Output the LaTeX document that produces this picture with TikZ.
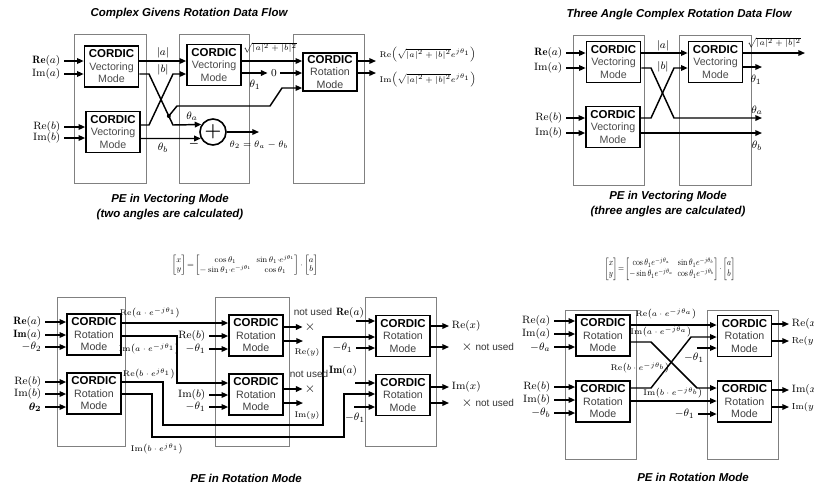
\documentclass[tikz,border=0pt]{standalone}
\usepackage{fontspec}
\setsansfont{Liberation Sans}
\usepackage{amsmath}
\usepackage{graphicx}
\usetikzlibrary{arrows.meta}
\tikzset{
  conn/.style={line width=1.1pt, line join=miter},
  arr/.style={conn, -{Triangle[length=5pt,width=4.2pt]}},
  panel/.style={draw=black!50, line width=0.6pt},
  cbox/.style={draw, line width=1.2pt, fill=white, minimum width=40.5pt, minimum height=30.75pt, inner sep=0pt, align=center, font=\fontsize{8}{9.4}\selectfont\sffamily},
  lbl/.style={inner sep=1pt, font=\fontsize{8}{9}\selectfont},
  inl/.style={lbl, anchor=east, inner sep=2.5pt},
  outl/.style={lbl, anchor=west, inner sep=2pt},
  slbl/.style={inner sep=1pt, font=\fontsize{6.2}{7}\selectfont},
  ttl/.style={font=\fontsize{8.6}{11.25}\selectfont\sffamily\bfseries\itshape, align=center},
  nu/.style={inner sep=1pt, font=\fontsize{7.5}{9}\selectfont\sffamily, text=black!80},
  xm/.style={inner sep=1.5pt, font=\fontsize{10}{10}\selectfont},
}
\newcommand{\cvec}{{\fontsize{8.6}{9.4}\selectfont\bfseries CORDIC}\\{\color{black!70}Vectoring}\\{\color{black!70}Mode}}
\newcommand{\crotm}{{\fontsize{8.6}{9.4}\selectfont\bfseries CORDIC}\\{\color{black!75}Rotation}\\{\color{black!75}Mode}}
\begin{document}
\begin{tikzpicture}[x=0.75pt,y=-0.75pt]
\useasboundingbox (0,0) rectangle (814,487);

% ---------------- titles ----------------
\node[ttl] (t1) at (189,14) {Complex Givens Rotation Data Flow};
\node[ttl] (t2) at (679,15) {Three Angle Complex Rotation Data Flow};
\node[ttl] (s1) at (170,207.5) {PE in Vectoring Mode\\(two angles are calculated)};
\node[ttl] (s2) at (668,204.5) {PE in Vectoring Mode\\(three angles are calculated)};
\node[ttl] (s3) at (246,478) {PE in Rotation Mode};
\node[ttl] (s4) at (693,477) {PE in Rotation Mode};

% ---------------- equations ----------------
\node[inner sep=0pt] (eq1) at (245,265) {\resizebox*{110pt}{15pt}{\setlength{\arraycolsep}{3pt}$\begin{bmatrix}x\\y\end{bmatrix}\!=\!\begin{bmatrix}\cos\theta_1 & \sin\theta_1{\cdot}e^{j\theta_1}\\-\sin\theta_1{\cdot}e^{-j\theta_1} & \cos\theta_1\end{bmatrix}{\cdot}\begin{bmatrix}a\\b\end{bmatrix}$}};
\node[inner sep=0pt] (eq2) at (670,269) {\resizebox*{98pt}{17pt}{\setlength{\arraycolsep}{3pt}$\begin{bmatrix}x\\y\end{bmatrix}\!=\!\begin{bmatrix}\cos\theta_1e^{-j\theta_a} & \sin\theta_1e^{-j\theta_b}\\-\sin\theta_1e^{-j\theta_a} & \cos\theta_1e^{-j\theta_b}\end{bmatrix}{\cdot}\begin{bmatrix}a\\b\end{bmatrix}$}};

% ---------------- panels ----------------
\draw[panel] (74,34) rectangle (146,183);
\draw[panel] (179,34) rectangle (249,183);
\draw[panel] (293,34) rectangle (364,183);
\draw[panel] (573,35) rectangle (644,185);
\draw[panel] (679,35) rectangle (751,185);
\draw[panel] (57,297) rectangle (125,446);
\draw[panel] (215,297) rectangle (289,446);
\draw[panel] (365,297) rectangle (436,446);
\draw[panel] (565,310) rectangle (636,459);
\draw[panel] (707,310) rectangle (778,459);

% ================= top left =================
\node[cbox] (b1) at (111.5,66.5) {\cvec};
\node[cbox] (b2) at (113,132) {\cvec};
\node[cbox] (b3) at (214,65) {\cvec};
\node[cbox, minimum height=28.5pt] (b4) at (330,72) {\crotm};
\node[circle, draw, line width=1.2pt, minimum size=19.5pt, inner sep=0pt, font=\fontsize{15}{15}\selectfont] (plus) at (213,132) {$\boldsymbol{+}$};
\node[circle, fill, inner sep=0pt, minimum size=3pt] (dot) at (168.8,116) {};

\node[inl] (ia1) at (64,61) {$\mathbf{Re}(a)$};
\node[inl] (ia2) at (64,74) {$\mathrm{Im}(a)$};
\node[inl] (ib1) at (64,127) {$\mathrm{Re}(b)$};
\node[inl] (ib2) at (64,138) {$\mathrm{Im}(b)$};
\draw[arr] (ia1.east) -- (ia1.east -| b1.west);
\draw[arr] (ia2.east) -- (ia2.east -| b1.west);
\draw[arr] (ib1.east) -- (ib1.east -| b2.west);
\draw[arr] (ib2.east) -- (ib2.east -| b2.west);

\draw[arr] (b1.east |- 0,61) -- (b3.west |- 0,61);
\node[lbl] (la) at (163,53) {$|a|$};
\draw[arr] (b1.east |- 0,74) -- (149,74) -- (173,125) -- (plus.147);
\draw[arr] (b2.east |- 0,125) -- (149,125) -- (173,74) -- (b3.west |- 0,74);
\node[lbl] (lb) at (163,70) {$|b|$};
\draw[arr] (b2.east |- 0,138.5) -- (plus.208);
\node[lbl] (tb) at (163,148) {$\theta_b$};
\node[lbl] (ta) at (192,116) {$\theta_a$};
\node[lbl] (minus) at (194,144) {$\boldsymbol{-}$};
\draw[arr] (dot.center) -- (177,106) -- (270,106) -- (282,88) -- (b4.west |- 0,88);

\draw[arr] (b3.east |- 0,61) -- (b4.west |- 0,61);
\node[slbl] (sq1) at (270,48) {$\sqrt{|a|^2+|b|^2}$};
\node[lbl, inner sep=2.5pt] (zero) at (274,73) {$0$};
\draw[arr] (b3.east |- zero) -- (zero.west);
\draw[arr] (zero.east) -- (b4.west |- zero);
\node[lbl] (t1l) at (255,85) {$\theta_1$};
\coordinate (pe) at (259,132);
\draw[arr] (plus.east) -- (pe);
\node[lbl, font=\fontsize{7}{8}\selectfont] (t2l) at (259,145) {$\theta_2=\theta_a-\theta_b$};

\coordinate (e1) at (376,61);
\coordinate (e2) at (376,73);
\draw[arr] (b4.east |- e1) -- (e1);
\draw[arr] (b4.east |- e2) -- (e2);
\node[slbl, anchor=west] (o1) at (378,55) {$\mathrm{Re}\Bigl(\sqrt{|a|^2+|b|^2}e^{j\theta_1}\Bigr)$};
\node[slbl, anchor=west] (o2) at (378,80) {$\mathrm{Im}\Bigl(\sqrt{|a|^2+|b|^2}e^{j\theta_1}\Bigr)$};

% ================= top right =================
\node[cbox] (A1) at (613.5,62) {\cvec};
\node[cbox] (A2) at (613,127) {\cvec};
\node[cbox] (B1) at (715.5,62) {\cvec};

\node[inl] (ja1) at (566,53) {$\mathbf{Re}(a)$};
\node[inl] (ja2) at (566,68) {$\mathrm{Im}(a)$};
\node[inl] (jb1) at (566,118) {$\mathrm{Re}(b)$};
\node[inl] (jb2) at (566,133) {$\mathrm{Im}(b)$};
\draw[arr] (ja1.east) -- (ja1.east -| A1.west);
\draw[arr] (ja2.east) -- (ja2.east -| A1.west);
\draw[arr] (jb1.east) -- (jb1.east -| A2.west);
\draw[arr] (jb2.east) -- (jb2.east -| A2.west);

\coordinate (tae) at (762,118);
\coordinate (tbe) at (762,133);
\coordinate (sqe) at (805,53);
\coordinate (t1e) at (762,67);
\draw[arr] (A1.east |- 0,53) -- (B1.west |- 0,53);
\node[lbl] (la2) at (663,46) {$|a|$};
\draw[arr] (A1.east |- 0,68) -- (651,68) -- (674,118) -- (tae);
\node[lbl] (ta2) at (757,110) {$\theta_a$};
\draw[arr] (A2.east |- 0,118) -- (651,118) -- (674,68) -- (B1.west |- 0,68);
\node[lbl] (lb2) at (663,67) {$|b|$};
\draw[arr] (A2.east |- tbe) -- (tbe);
\node[lbl] (tb2) at (757,146) {$\theta_b$};
\draw[arr] (B1.east |- sqe) -- (sqe);
\node[slbl] (sq2) at (774,43) {$\sqrt{|a|^2+|b|^2}$};
\draw[arr] (B1.east |- t1e) -- (t1e);
\node[lbl] (t12) at (756,80) {$\theta_1$};

% ================= bottom left =================
\node[cbox] (L1a) at (94,334.5) {\crotm};
\node[cbox] (L1b) at (94,393.5) {\crotm};
\node[cbox] (L2a) at (256,335.5) {\crotm};
\node[cbox] (L2b) at (256,394.5) {\crotm};
\node[cbox] (L3a) at (403,336) {\crotm};
\node[cbox] (L3b) at (403,395) {\crotm};

\node[inl] (ka1) at (45,322) {$\mathbf{Re}(a)$};
\node[inl] (ka2) at (45,335) {$\mathbf{Im}(a)$};
\node[inl] (ka3) at (45,347) {$-\theta_2$};
\node[inl] (kb1) at (45,382) {$\mathrm{Re}(b)$};
\node[inl] (kb2) at (45,394) {$\mathrm{Im}(b)$};
\node[inl] (kb3) at (45,407) {$\boldsymbol{\theta_2}$};
\foreach \n in {ka1,ka2,ka3} \draw[arr] (\n.east) -- (\n.east -| L1a.west);
\foreach \n in {kb1,kb2,kb3} \draw[arr] (\n.east) -- (\n.east -| L1b.west);

\draw[arr] (L1a.east |- 0,323) -- (L2a.west |- 0,323);
\node[slbl] (m1) at (150,313) {$\mathrm{Re}\bigl(a\cdot e^{-j\theta_1}\bigr)$};
\draw[arr] (L1a.east |- 0,336) -- (177,336) -- (177,383) -- (L2b.west |- 0,383);
\node[slbl] (m2) at (149,349) {$\mathrm{Im}\bigl(a\cdot e^{-j\theta_1}\bigr)$};
\draw[arr] (L1b.east |- 0,382) -- (163,382) -- (163,425) -- (323,425) -- (323,337) -- (L3a.west |- 0,337);
\node[slbl] (m3) at (149,374) {$\mathrm{Re}\bigl(b\cdot e^{j\theta_1}\bigr)$};
\draw[arr] (L1b.east |- 0,394) -- (152,394) -- (152,437) -- (344,437) -- (344,394) -- (L3b.west |- 0,394);
\node[slbl] (m4) at (157,449) {$\mathrm{Im}\bigl(b\cdot e^{j\theta_1}\bigr)$};

\node[inl] (na1) at (209,336) {$\mathrm{Re}(b)$};
\node[inl] (na2) at (209,349) {$-\theta_1$};
\node[inl] (nb1) at (209,395) {$\mathrm{Im}(b)$};
\node[inl] (nb2) at (209,407) {$-\theta_1$};
\draw[arr] (na1.east) -- (na1.east -| L2a.west);
\draw[arr] (na2.east) -- (na2.east -| L2a.west);
\draw[arr] (nb1.east) -- (nb1.east -| L2b.west);
\draw[arr] (nb2.east) -- (nb2.east -| L2b.west);

\node[xm] (x1) at (310,327) {$\times$};
\draw[arr] (L2a.east |- x1) -- (x1.west);
\node[nu] (nu1) at (313,312) {not used};
\coordinate (rye) at (303,341);
\draw[arr] (L2a.east |- rye) -- (rye);
\node[slbl] (ryl) at (307,352) {$\mathrm{Re}(y)$};
\node[xm] (x2) at (310,389) {$\times$};
\draw[arr] (L2b.east |- x2) -- (x2.west);
\node[nu] (nu2) at (309,374) {not used};
\coordinate (iye) at (303,403);
\draw[arr] (L2b.east |- iye) -- (iye);
\node[slbl] (iyl) at (307,415) {$\mathrm{Im}(y)$};

\coordinate (s3a) at (356,321);
\draw[arr] (s3a) -- (L3a.west |- s3a);
\node[lbl] (pa1) at (350,313) {$\mathbf{Re}(a)$};
\node[inl] (pa3) at (356,348) {$-\theta_1$};
\draw[arr] (pa3.east) -- (pa3.east -| L3a.west);
\coordinate (s3b) at (355,383);
\draw[arr] (s3b) -- (L3b.west |- s3b);
\node[lbl] (pb1) at (343,371) {$\mathbf{Im}(a)$};
\coordinate (s3c) at (354,407);
\draw[arr] (s3c) -- (L3b.west |- s3c);
\node[lbl] (pb3) at (355,418) {$-\theta_1$};

\node[outl] (rx) at (449,326) {$\mathrm{Re}(x)$};
\draw[arr] (L3a.east |- rx) -- (rx.west);
\coordinate (x3a) at (449,347);
\draw[arr] (L3a.east |- x3a) -- (x3a);
\node[xm] (x3) at (467,347) {$\times$};
\node[nu, anchor=west] (nu3) at (474,347) {not used};
\node[outl] (ix) at (449,387) {$\mathrm{Im}(x)$};
\draw[arr] (L3b.east |- ix) -- (ix.west);
\coordinate (x4a) at (449,403);
\draw[arr] (L3b.east |- x4a) -- (x4a);
\node[xm] (x4) at (467,403) {$\times$};
\node[nu, anchor=west] (nu4) at (474,403) {not used};

% ================= bottom right =================
\node[cbox] (R1a) at (603,335.5) {\crotm};
\node[cbox] (R1b) at (603,401.5) {\crotm};
\node[cbox] (R2a) at (744.5,336) {\crotm};
\node[cbox] (R2b) at (744.5,401.5) {\crotm};

\node[inl] (qa1) at (554,321) {$\mathrm{Re}(a)$};
\node[inl] (qa2) at (554,334) {$\mathrm{Im}(a)$};
\node[inl] (qa3) at (554,347) {$-\theta_a$};
\node[inl] (qb1) at (554,387) {$\mathrm{Re}(b)$};
\node[inl] (qb2) at (554,400) {$\mathrm{Im}(b)$};
\node[inl] (qb3) at (554,413) {$-\theta_b$};
\foreach \n in {qa1,qa2,qa3} \draw[arr] (\n.east) -- (\n.east -| R1a.west);
\foreach \n in {qb1,qb2,qb3} \draw[arr] (\n.east) -- (\n.east -| R1b.west);

\draw[arr] (R1a.east |- 0,325) -- (R2a.west |- 0,325);
\node[slbl] (r1) at (666,314) {$\mathrm{Re}\bigl(a\cdot e^{-j\theta_a}\bigr)$};
\draw[arr] (R1a.east |- 0,342) -- (651,342) -- (697,388) -- (R2b.west |- 0,388);
\node[slbl] (r2) at (661,332) {$\mathrm{Im}\bigl(a\cdot e^{-j\theta_a}\bigr)$};
\draw[arr] (R1b.east |- 0,388) -- (651,388) -- (691,337) -- (R2a.west |- 0,337);
\node[slbl] (r3) at (640,368) {$\mathrm{Re}\bigl(b\cdot e^{-j\theta_b}\bigr)$};
\draw[arr] (R1b.east |- 0,401) -- (R2b.west |- 0,401);
\node[slbl] (r4) at (673,393) {$\mathrm{Im}\bigl(b\cdot e^{-j\theta_b}\bigr)$};

\coordinate (r2a3) at (697,348);
\draw[arr] (r2a3) -- (R2a.west |- r2a3);
\node[lbl] (u3) at (694,358) {$-\theta_1$};
\node[inl] (u4) at (698,414) {$-\theta_1$};
\draw[arr] (u4.east) -- (u4.east -| R2b.west);

\node[outl] (vx) at (789,324) {$\mathrm{Re}(x)$};
\node[outl, font=\fontsize{6.6}{7}\selectfont] (vy) at (789,341) {$\mathrm{Re}(y)$};
\node[outl] (wx) at (789,390) {$\mathrm{Im}(x)$};
\node[outl, font=\fontsize{6.6}{7}\selectfont] (wy) at (789,407) {$\mathrm{Im}(y)$};
\draw[arr] (R2a.east |- vx) -- (vx.west);
\draw[arr] (R2a.east |- vy) -- (vy.west);
\draw[arr] (R2b.east |- wx) -- (wx.west);
\draw[arr] (R2b.east |- wy) -- (wy.west);
\end{tikzpicture}
\end{document}
